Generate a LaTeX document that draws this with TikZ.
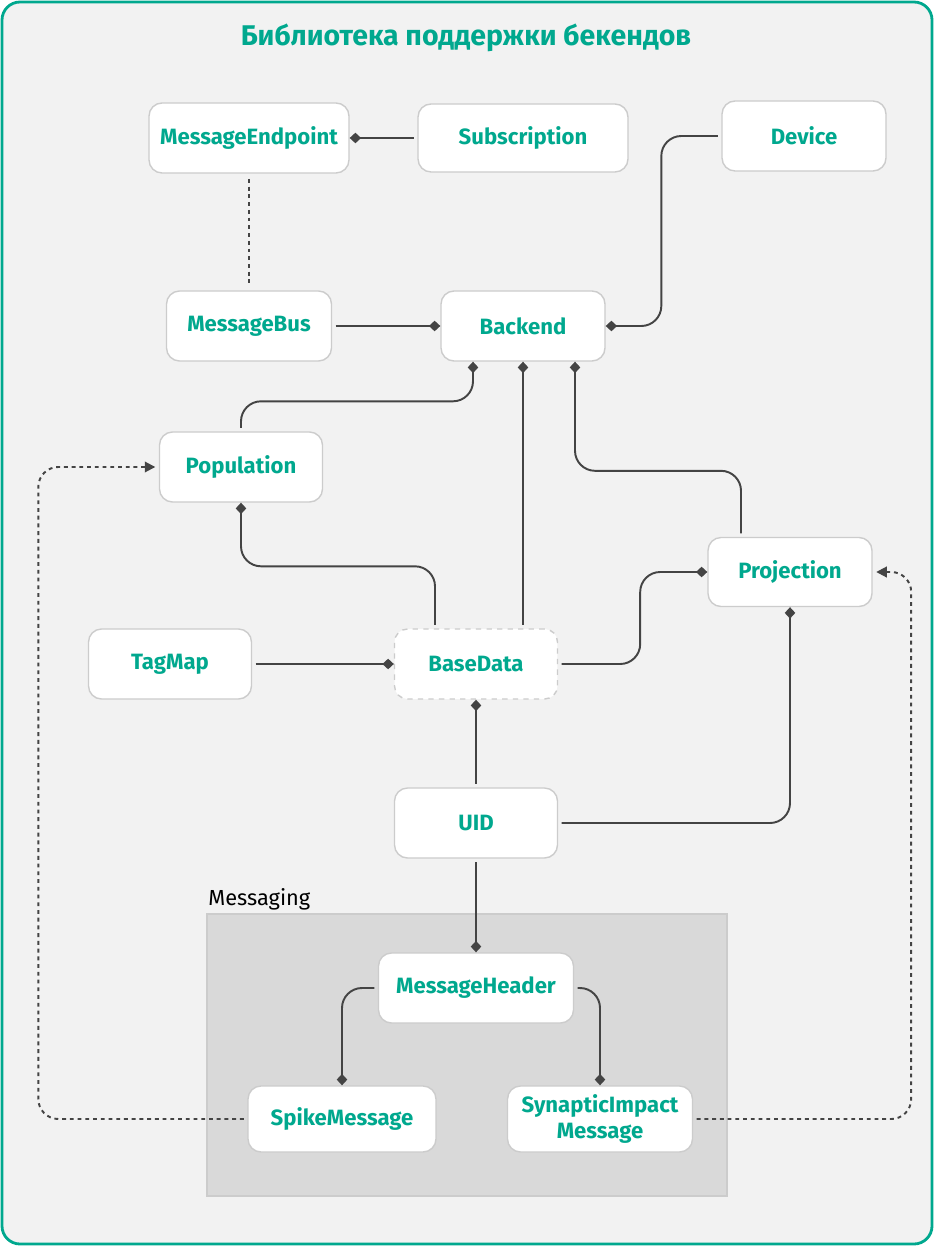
\documentclass[tikz,border=0pt]{standalone}
\usepackage{fontspec}
\setmainfont{Fira Sans}
\usetikzlibrary{arrows.meta,calc}
\definecolor{kgreen}{HTML}{00A88E}
\definecolor{pagebg}{HTML}{F2F2F2}
\definecolor{boxline}{HTML}{CCCCCC}
\definecolor{linkgray}{HTML}{444444}
\definecolor{groupbg}{HTML}{D9D9D9}
\begin{document}
\begin{tikzpicture}[x=0.02cm,y=-0.02cm,
  every node/.style={font=\fontsize{12.6}{14.5}\selectfont\bfseries,text=kgreen},
  box/.style={draw=boxline,line width=0.8pt,fill=white,rounded corners=0.26cm,minimum height=1.4cm,align=center},
  link/.style={draw=linkgray,line width=1.1pt,rounded corners=0.4cm,shorten <=2pt,-{Diamond[length=6.5pt,width=6pt]}},
  dep/.style={draw=linkgray,line width=1.1pt,dash pattern=on 2.2pt off 2.2pt,rounded corners=0.4cm}]
\useasboundingbox (0,0) rectangle (934,1246);
\draw[kgreen,line width=1.6pt,fill=pagebg,rounded corners=0.36cm] (2,2) rectangle (932,1244);
\node[font=\fontsize{16.2}{19}\selectfont\bfseries] (title) at (466,38) {Библиотека поддержки бекендов};
\draw[draw=boxline,fill=groupbg,line width=0.8pt] (207,914) rectangle (727,1196);
\node[anchor=south west,inner sep=0pt,text=black,font=\fontsize{12.4}{14}\selectfont] (msglbl) at (208,910) {Messaging};
\node[box,minimum width=4cm] (me) at (249,138) {MessageEndpoint};
\node[box,minimum width=4.2cm,minimum height=1.36cm] (sub) at (523,138) {Subscription};
\node[box,minimum width=3.28cm] (dev) at (804,136) {Device};
\node[box,minimum width=3.3cm] (mb) at (249,326) {MessageBus};
\node[box,minimum width=3.28cm] (be) at (523,326) {Backend};
\node[box,minimum width=3.26cm] (pop) at (241,467) {Population};
\node[box,minimum width=3.28cm,minimum height=1.38cm] (pr) at (790,572) {Projection};
\node[box,minimum width=3.26cm] (tm) at (170,664) {TagMap};
\node[box,dashed,minimum width=3.26cm] (bd) at (476,664) {BaseData};
\node[box,minimum width=3.26cm] (uid) at (476,823) {UID};
\node[box,minimum width=3.9cm] (mh) at (476,988) {MessageHeader};
\node[box,minimum width=3.76cm,minimum height=1.32cm] (sm) at (342,1119) {SpikeMessage};
\node[box,minimum width=3.7cm,minimum height=1.32cm] (si) at (600,1119) {SynapticImpact\\Message};
\draw[link] (sub.west) -- (me.east);
\draw[dep,shorten <=3pt,shorten >=3pt] (me.south) -- (mb.north);
\draw[link] (mb.east) -- (be.west);
\draw[link] (dev.west) -- ++(-60,0) |- (be.east);
\draw[link] (pop.north) -- ++(0,-30) -| ($(be.south)+(-50,0)$);
\draw[link] ($(bd.north)+(47,0)$) -- (be.south);
\draw[link] ($(pr.north)+(-49,0)$) -- ++(0,-66) -| ($(be.south)+(52,0)$);
\draw[link] ($(bd.north)+(-41,0)$) -- ++(0,-62) -| (pop.south);
\draw[link] (tm.east) -- (bd.west);
\draw[link] (bd.east) -- ++(82,0) |- (pr.west);
\draw[link] (uid.north) -- (bd.south);
\draw[link] (uid.east) -| (pr.south);
\draw[link] (uid.south) -- (mh.north);
\draw[link] (mh.west) -| (sm.north);
\draw[link] (mh.east) -| (si.north);
\draw[dep,shorten <=2pt,shorten >=2pt,-{Triangle[length=6pt,width=6pt]}] (sm.west) -- ++(-209,0) |- (pop.west);
\draw[dep,shorten <=2pt,shorten >=2pt,-{Triangle[length=6pt,width=6pt]}] (si.east) -- ++(218,0) |- (pr.east);
\end{tikzpicture}
\end{document}
